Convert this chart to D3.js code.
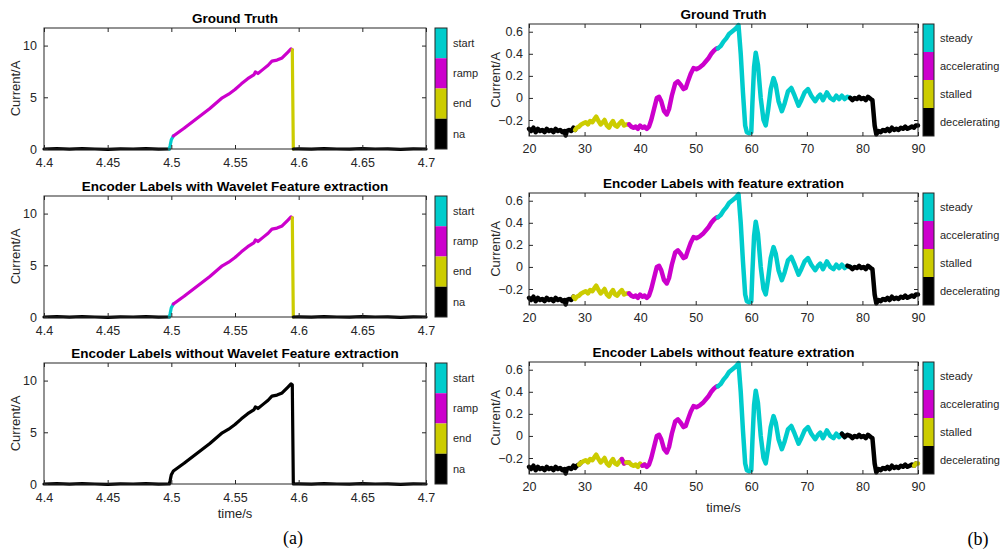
<!DOCTYPE html>
<html>
<head>
<meta charset="utf-8">
<script src="https://cdn.jsdelivr.net/npm/d3@7"></script>
<style>
  body { margin: 0; background: #fff; }
  svg { font-family: "Liberation Sans", Arial, sans-serif; }
</style>
</head>
<body>
<script>
// ---- data ----
const leftClasses = ['start', 'ramp', 'end', 'na'];
const rightClasses = ['steady', 'accelerating', 'stalled', 'decelerating'];
const classColors = ['#00cccc', '#cc00cc', '#cccc00', '#000000'];

const leftTitles = [
  'Ground Truth',
  'Encoder Labels with Wavelet Feature extraction',
  'Encoder Labels without Wavelet Feature extraction',
];
const rightTitles = [
  'Ground Truth',
  'Encoder Labels with feature extration',
  'Encoder Labels without feature extration',
];

const leftXTicks = [4.4, 4.45, 4.5, 4.55, 4.6, 4.65, 4.7];
const leftYTicks = [0, 5, 10];
const rightXTicks = [20, 30, 40, 50, 60, 70, 80, 90];
const rightYTicks = [-0.2, 0, 0.2, 0.4, 0.6];

// current ramp (s, A)
const leftTime = [4.4, 4.41, 4.42, 4.43, 4.44, 4.45, 4.46, 4.47, 4.48, 4.49, 4.4984,
  4.499, 4.5, 4.5016, 4.51, 4.52, 4.53, 4.54, 4.545, 4.55, 4.555, 4.56, 4.565, 4.566,
  4.568, 4.572, 4.576, 4.579, 4.583, 4.587, 4.591, 4.594, 4.595, 4.5958,
  4.6, 4.61, 4.62, 4.63, 4.64, 4.65, 4.66, 4.67, 4.68, 4.69, 4.7];
const leftCurrent = [0, 0.03, -0.02, 0.03, 0, -0.03, 0.02, 0, 0.03, -0.02, 0,
  0.3, 0.9, 1.26, 2.0, 2.95, 3.9, 4.95, 5.3, 5.75, 6.3, 6.8, 7.2, 7.45,
  7.3, 7.7, 8.1, 8.5, 8.6, 8.8, 9.3, 9.68, 9.6, 0,
  0.02, -0.02, 0.03, 0, -0.02, 0.03, 0, 0.02, -0.03, 0.02, 0];

// label segments: breakpoints + class per segment
const leftGtBreaks = [4.4, 4.4984, 4.5016, 4.595, 4.5958, 4.7];
const leftGtLabels = ['na', 'start', 'ramp', 'end', 'na'];
const leftWavBreaks = [4.4, 4.4984, 4.5016, 4.595, 4.5958, 4.7];
const leftWavLabels = ['na', 'start', 'ramp', 'end', 'na'];
const leftRawBreaks = [4.4, 4.7];
const leftRawLabels = ['na'];

// motor current (s, A)
const rightTime = [20, 20.4, 20.8, 21.2, 21.6, 22, 22.4, 22.8, 23.2, 23.6, 24, 24.4, 24.8,
  25.2, 25.6, 26, 26.4, 26.6, 26.8, 27.2, 27.6, 28, 28.3,
  28.6, 29, 29.4, 29.8, 30.2, 30.6, 31, 31.4, 31.8, 32.1, 32.5, 32.9, 33.3, 33.6, 34,
  34.4, 34.8, 35.1, 35.5, 35.9, 36.3, 36.7, 37.1, 37.5, 38,
  38.4, 38.8, 39.2, 39.6, 40, 40.4, 40.8, 41.2, 41.6, 42, 42.5, 43, 43.4, 43.8, 44.3,
  44.8, 45.2, 45.7, 46.3, 46.8, 47.3, 47.8, 48.2, 48.6, 49.1, 49.6, 50.2, 50.8, 51.3,
  51.8, 52.3, 52.8, 53.3, 53.8, 54,
  54.5, 55, 55.5, 56, 56.5, 57, 57.4, 57.7, 58.1, 58.5, 58.9, 59.2, 59.6, 60, 60.2,
  60.5, 60.8, 61.2, 61.7, 62.2, 62.6, 63, 63.5, 64, 64.4, 64.9, 65.5, 66, 66.6, 67.2,
  67.8, 68.5, 69, 69.6, 70.2, 70.8, 71.5, 72, 72.4, 72.9, 73.6, 74.2, 74.8, 75.3,
  75.8, 76.3, 76.8, 77.3, 77.8,
  78.2, 78.6, 79, 79.4, 79.8, 80.2, 80.6, 81, 81.5, 81.8, 82.2, 82.5, 82.9, 83.3,
  83.7, 84.1, 84.5, 84.9, 85.3, 85.7, 86.1, 86.5, 86.9, 87.3, 87.7, 88.1, 88.5,
  88.9, 89.3, 89.6, 90];
const rightCurrent = [-0.28, -0.3, -0.27, -0.31, -0.28, -0.3, -0.29, -0.31, -0.28, -0.3, -0.29, -0.31, -0.28,
  -0.3, -0.29, -0.31, -0.3, -0.34, -0.3, -0.29, -0.3, -0.27, -0.29,
  -0.27, -0.26, -0.24, -0.23, -0.22, -0.24, -0.21, -0.22, -0.19, -0.17, -0.21, -0.24, -0.22, -0.2, -0.25,
  -0.27, -0.23, -0.21, -0.25, -0.26, -0.23, -0.21, -0.25, -0.24, -0.24,
  -0.26, -0.27, -0.26, -0.28, -0.25, -0.27, -0.26, -0.28, -0.26, -0.2, -0.1, 0, 0.01, -0.03, -0.12,
  -0.15, -0.1, 0.02, 0.13, 0.15, 0.12, 0.08, 0.09, 0.15, 0.22, 0.27, 0.26, 0.28, 0.3,
  0.33, 0.36, 0.4, 0.43, 0.45, 0.45,
  0.47, 0.51, 0.54, 0.58, 0.6, 0.62, 0.64, 0.66, 0.4, 0.05, -0.25, -0.31, -0.32, -0.31, -0.05,
  0.28, 0.41, 0.3, 0, -0.2, -0.25, -0.12, 0.08, 0.18, 0.12, -0.03, -0.12, -0.05, 0.06, 0.09,
  0.02, -0.07, -0.02, 0.05, 0.08, 0.02, -0.03, 0.01, 0.03, -0.02, 0.05, 0, -0.02, 0.02,
  -0.01, 0.02, -0.01, 0.01, 0,
  -0.02, 0, -0.01, 0.01, -0.01, 0, -0.02, 0.01, -0.01, -0.02, -0.25, -0.33, -0.3, -0.31,
  -0.29, -0.3, -0.28, -0.3, -0.27, -0.29, -0.28, -0.29, -0.27, -0.28, -0.26, -0.28, -0.27,
  -0.26, -0.27, -0.25, -0.25];

const rightGtBreaks = [20, 28.3, 38, 54, 77.8, 90];
const rightGtLabels = ['decelerating', 'stalled', 'accelerating', 'steady', 'decelerating'];
const rightFeatBreaks = [20, 28, 38, 54, 77.6, 90];
const rightFeatLabels = ['decelerating', 'stalled', 'accelerating', 'steady', 'decelerating'];
const rightRawBreaks = [20, 29.3, 36.9, 37.8, 40.5, 54, 76.6, 89.5, 90];
const rightRawLabels = ['decelerating', 'stalled', 'accelerating', 'stalled', 'accelerating',
  'steady', 'decelerating', 'stalled'];

// ---- layout ----
const width = 1004;
const height = 549;
const ink = '#262626';

const svg = d3.select('body').append('svg')
  .attr('width', width).attr('height', height);

const colorOf = (cls, classes) => classColors[classes.indexOf(cls)];

function drawPanel(opt) {
  const g = svg.append('g');
  const x = d3.scaleLinear().domain(opt.xDomain).range([opt.x0, opt.x1]);
  const y = d3.scaleLinear().domain(opt.yDomain).range([opt.top + opt.h, opt.top]);
  const bottom = opt.top + opt.h;

  // trace, one path per labelled segment
  const line = d3.line().x((i) => x(opt.time[i])).y((i) => y(opt.current[i]));
  opt.labels.forEach((cls, s) => {
    const a = opt.breaks[s];
    const b = opt.breaks[s + 1];
    let idx = d3.range(opt.time.length).filter((i) => opt.time[i] >= a && opt.time[i] <= b);
    if (idx.length && idx[0] > 0 && opt.time[idx[0]] > a) idx.unshift(idx[0] - 1);
    if (idx.length && idx[idx.length - 1] < opt.time.length - 1 && opt.time[idx[idx.length - 1]] < b) {
      idx.push(idx[idx.length - 1] + 1);
    }
    g.append('path')
      .attr('d', line(idx))
      .attr('fill', 'none')
      .attr('stroke', colorOf(cls, opt.classes))
      .attr('stroke-width', opt.lw)
      .attr('stroke-linejoin', 'round')
      .attr('stroke-linecap', 'round');
  });

  // axes (inward ticks on all sides)
  const styleAxis = (sel) => {
    sel.select('.domain').remove();
    sel.selectAll('line').attr('stroke', ink);
    sel.selectAll('text').attr('fill', ink).style('font-size', '12.5px');
  };
  g.append('g').attr('transform', `translate(0,${bottom})`)
    .call(d3.axisBottom(x).tickValues(opt.xTicks).tickSizeInner(-4).tickSizeOuter(0)
      .tickPadding(opt.xPad).tickFormat(d3.format('')))
    .call(styleAxis);
  g.append('g').attr('transform', `translate(0,${opt.top})`)
    .call(d3.axisTop(x).tickValues(opt.xTicks).tickSizeInner(-4).tickSizeOuter(0).tickFormat(''))
    .call(styleAxis);
  g.append('g').attr('transform', `translate(${opt.x0},0)`)
    .call(d3.axisLeft(y).tickValues(opt.yTicks).tickSizeInner(-4).tickSizeOuter(0)
      .tickPadding(opt.yPad).tickFormat(d3.format('')))
    .call(styleAxis);
  g.append('g').attr('transform', `translate(${opt.x1},0)`)
    .call(d3.axisRight(y).tickValues(opt.yTicks).tickSizeInner(-4).tickSizeOuter(0).tickFormat(''))
    .call(styleAxis);
  g.append('rect')
    .attr('x', opt.x0).attr('y', opt.top)
    .attr('width', opt.x1 - opt.x0).attr('height', opt.h)
    .attr('fill', 'none').attr('stroke', ink).attr('stroke-width', 1);

  // title
  g.append('text')
    .attr('x', (opt.x0 + opt.x1) / 2).attr('y', opt.top - 5.5)
    .attr('text-anchor', 'middle')
    .style('font-size', '13.5px').style('font-weight', 'bold')
    .text(opt.title);

  // y label
  g.append('text')
    .attr('transform', `translate(${opt.ylabX},${opt.top + opt.h / 2}) rotate(-90)`)
    .attr('text-anchor', 'middle').attr('dy', '0.35em')
    .attr('fill', ink).style('font-size', '13px')
    .text('Current/A');

  // colorbar
  const cbH = opt.h / opt.classes.length;
  opt.classes.forEach((cls, k) => {
    g.append('rect')
      .attr('x', opt.cbX).attr('y', opt.top + k * cbH)
      .attr('width', opt.cbW).attr('height', cbH)
      .attr('fill', classColors[k]);
    g.append('text')
      .attr('x', opt.cbX + opt.cbW + 6).attr('y', opt.top + (k + 0.5) * cbH)
      .attr('dy', '0.35em').attr('fill', ink).style('font-size', '11px')
      .text(cls);
  });
  g.append('rect')
    .attr('x', opt.cbX).attr('y', opt.top)
    .attr('width', opt.cbW).attr('height', opt.h)
    .attr('fill', 'none').attr('stroke', ink).attr('stroke-width', 1);

  if (opt.xlabel) {
    g.append('text')
      .attr('x', (opt.x0 + opt.x1) / 2).attr('y', opt.xlabY)
      .attr('text-anchor', 'middle').attr('dy', '0.35em')
      .attr('fill', ink).style('font-size', '13px')
      .text(opt.xlabel);
  }
}

const leftTops = [28, 196, 363];
const leftSets = [
  [leftGtBreaks, leftGtLabels],
  [leftWavBreaks, leftWavLabels],
  [leftRawBreaks, leftRawLabels],
];
leftTops.forEach((top, p) => {
  drawPanel({
    x0: 44, x1: 426, top: top, h: 121,
    xDomain: [4.4, 4.7], yDomain: [0, 11.7],
    xTicks: leftXTicks, yTicks: leftYTicks, xPad: 9, yPad: 7,
    time: leftTime, current: leftCurrent,
    breaks: leftSets[p][0], labels: leftSets[p][1],
    classes: leftClasses, lw: 3.2,
    title: leftTitles[p], ylabX: 15,
    cbX: 435, cbW: 12,
    xlabel: p === 2 ? 'time/s' : null, xlabY: 513,
  });
});

const rightTops = [24, 193, 362];
const rightSets = [
  [rightGtBreaks, rightGtLabels],
  [rightFeatBreaks, rightFeatLabels],
  [rightRawBreaks, rightRawLabels],
];
rightTops.forEach((top, p) => {
  drawPanel({
    x0: 529, x1: 918, top: top, h: 112,
    xDomain: [20, 90], yDomain: [-0.345, 0.67],
    xTicks: rightXTicks, yTicks: rightYTicks, xPad: 8, yPad: 6,
    time: rightTime, current: rightCurrent,
    breaks: rightSets[p][0], labels: rightSets[p][1],
    classes: rightClasses, lw: 4.5,
    title: rightTitles[p], ylabX: 495,
    cbX: 923, cbW: 11,
    xlabel: p === 2 ? 'time/s' : null, xlabY: 507,
  });
});

// sub-figure letters
svg.append('text').attr('x', 293).attr('y', 538).attr('text-anchor', 'middle')
  .attr('dy', '0.35em').style('font-family', '"Liberation Serif", "Times New Roman", serif')
  .style('font-size', '18px').text('(a)');
svg.append('text').attr('x', 978).attr('y', 539).attr('text-anchor', 'middle')
  .attr('dy', '0.35em').style('font-family', '"Liberation Serif", "Times New Roman", serif')
  .style('font-size', '18px').text('(b)');
</script>
</body>
</html>
